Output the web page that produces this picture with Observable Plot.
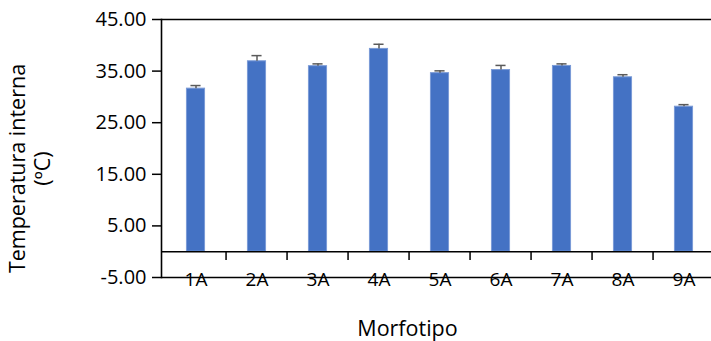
<!DOCTYPE html>
<html>
<head>
<meta charset="utf-8">
<script src="https://cdn.jsdelivr.net/npm/d3@7"></script>
<script src="https://cdn.jsdelivr.net/npm/@observablehq/plot@0.6"></script>
<style>
  html, body { margin: 0; padding: 0; background: #fff; overflow: hidden; }
  #chart { width: 711px; height: 341px; overflow: hidden; }
</style>
</head>
<body>
<div id="chart"></div>
<script>
const categories = ["1A", "2A", "3A", "4A", "5A", "6A", "7A", "8A", "9A"];
const means = [31.6, 36.9, 35.95, 39.3, 34.6, 35.2, 36.0, 33.8, 28.1];
const upperErrors = [32.2, 38.0, 36.4, 40.2, 35.05, 36.1, 36.4, 34.3, 28.5];
const yTicks = [-5, 5, 15, 25, 35, 45];
const yTitle1 = "Temperatura interna";
const yTitle2 = "(ºC)";
const xTitle = "Morfotipo";

const data = categories.map((c, i) => ({cat: c, mean: means[i], err: upperErrors[i]}));

const W = 719, H = 341;
const mL = 161, mR = 1, mT = 19, mB = 64;
const step = (W - mL - mR) / categories.length;
const barW = 19;
const capW = 11;
const midY = mT + (H - mT - mB) / 2;

const chart = Plot.plot({
  width: W,
  height: H,
  marginLeft: mL,
  marginRight: mR,
  marginTop: mT,
  marginBottom: mB,
  style: {fontFamily: "'Open Sans', sans-serif", background: "#fff", color: "#000", maxWidth: "none", overflow: "hidden"},
  x: {type: "band", domain: categories, padding: 0, axis: null},
  y: {domain: [-5, 45], axis: null},
  marks: [
    Plot.barY(data, {
      x: "cat", y1: 0, y2: "mean",
      fill: "#4472C4", stroke: "#7a9ad6", strokeWidth: 1,
      insetLeft: (step - barW) / 2, insetRight: (step - barW) / 2
    }),
    Plot.ruleX(data, {x: "cat", y1: "mean", y2: "err", stroke: "#5a5a5a", strokeWidth: 1.5}),
    Plot.tickY(data, {
      x: "cat", y: "err", stroke: "#5a5a5a", strokeWidth: 1.5,
      insetLeft: (step - capW) / 2, insetRight: (step - capW) / 2
    }),
    Plot.ruleY([45, 0, -5], {stroke: "#000", strokeWidth: 1.6}),
    Plot.ruleX(categories.slice(1), {x: d => d, dx: -step / 2, y1: 0, y2: -1.7, stroke: "#000", strokeWidth: 1.5}),
    Plot.frame({anchor: "left", stroke: "#000", strokeWidth: 1.6}),
    Plot.axisY({ticks: yTicks, tickSize: 9, text: null, stroke: "#000", strokeWidth: 1.5}),
    Plot.text(yTicks, {
      y: d => d, text: d => d.toFixed(2), frameAnchor: "left", textAnchor: "end",
      lineAnchor: "middle", dx: -15, fontSize: 20, fill: "#000"
    }),
    Plot.text(categories, {
      x: d => d, frameAnchor: "bottom", dy: 2, lineAnchor: "middle",
      fontSize: 19, fill: "#000"
    }),
    Plot.text([xTitle], {
      frameAnchor: "bottom", textAnchor: "middle", dx: 407 - (mL + (W - mL - mR) / 2), dy: 52,
      lineAnchor: "middle", fontSize: 21.5, fill: "#000"
    }),
    Plot.text([yTitle1], {
      frameAnchor: "left", textAnchor: "middle", dx: 18 - mL, dy: 168 - midY,
      rotate: -90, lineAnchor: "middle", fontSize: 21.5, fill: "#000"
    }),
    Plot.text([yTitle2], {
      frameAnchor: "left", textAnchor: "middle", dx: 43 - mL, dy: 168 - midY,
      rotate: -90, lineAnchor: "middle", fontSize: 21.5, fill: "#000"
    })
  ]
});
document.getElementById("chart").appendChild(chart);
</script>
</body>
</html>
